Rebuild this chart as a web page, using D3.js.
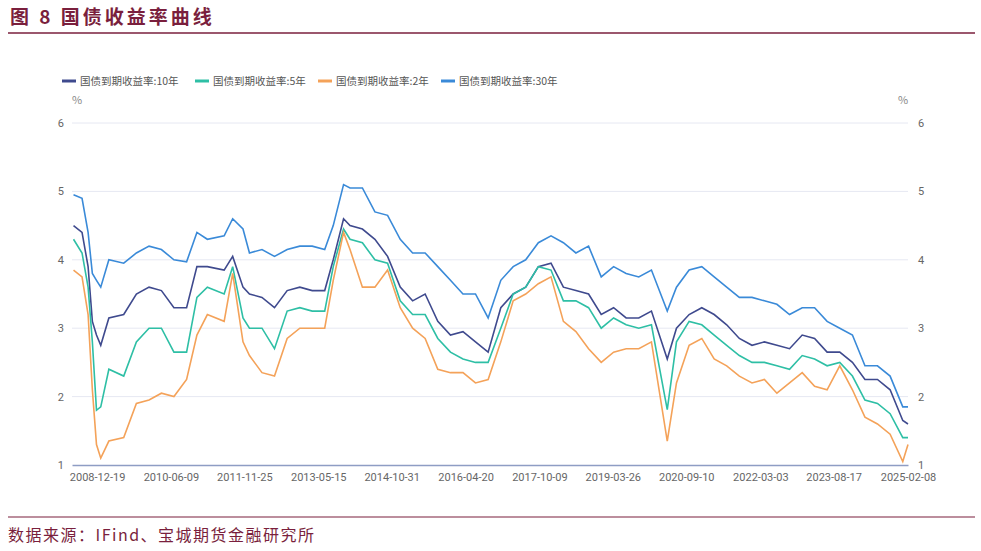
<!DOCTYPE html>
<html><head><meta charset="utf-8">
<script src="https://cdn.jsdelivr.net/npm/d3@7"></script>
<style>body{margin:0;background:#fff;font-family:"Noto Sans CJK SC",sans-serif}</style>
</head><body><svg id="c" width="981" height="551"></svg>
<script>
const dates = ["2008-07-01","2008-09-01","2008-10-15","2008-11-15","2008-12-15","2009-01-15","2009-03-15","2009-07-01","2009-10-01","2010-01-01","2010-04-01","2010-07-01","2010-10-01","2010-12-15","2011-03-01","2011-07-01","2011-09-01","2011-11-15","2012-01-01","2012-04-01","2012-07-01","2012-10-01","2013-01-01","2013-04-01","2013-07-01","2013-09-01","2013-11-15",
"2014-01-01","2014-04-01","2014-07-01","2014-10-01","2015-01-01","2015-04-01","2015-07-01","2015-10-01","2016-01-01","2016-04-01","2016-07-01","2016-10-01","2017-01-01","2017-04-01","2017-07-01","2017-10-01","2018-01-01","2018-04-01","2018-07-01","2018-10-01","2019-01-01","2019-04-01","2019-07-01","2019-10-01",
"2020-01-01","2020-04-25","2020-07-01","2020-10-01","2021-01-01","2021-04-01","2021-07-01","2021-10-01","2022-01-01","2022-04-01","2022-07-01","2022-10-01","2023-01-01","2023-04-01","2023-07-01","2023-10-01","2024-01-01","2024-04-01","2024-07-01","2024-10-01","2025-01-01","2025-02-08"];
const y10 = [4.5,4.4,3.9,3.1,2.9,2.75,3.15,3.2,3.5,3.6,3.55,3.3,3.3,3.9,3.9,3.85,4.05,3.6,3.5,3.45,3.3,3.55,3.6,3.55,3.55,4.0,4.6,
4.5,4.45,4.3,4.05,3.6,3.4,3.5,3.1,2.9,2.95,2.8,2.65,3.3,3.5,3.6,3.9,3.95,3.6,3.55,3.5,3.2,3.3,3.15,3.15,
3.25,2.55,3.0,3.2,3.3,3.2,3.05,2.85,2.75,2.8,2.75,2.7,2.9,2.85,2.65,2.65,2.5,2.25,2.25,2.1,1.65,1.6];
const y5 = [4.3,4.1,3.6,2.8,1.8,1.85,2.4,2.3,2.8,3.0,3.0,2.65,2.65,3.45,3.6,3.5,3.9,3.15,3.0,3.0,2.7,3.25,3.3,3.25,3.25,3.9,4.45,
4.3,4.25,4.0,3.95,3.4,3.2,3.2,2.85,2.65,2.55,2.5,2.5,3.0,3.5,3.6,3.9,3.85,3.4,3.4,3.3,3.0,3.15,3.05,3.0,
3.05,1.81,2.8,3.1,3.05,2.9,2.75,2.6,2.5,2.5,2.45,2.4,2.6,2.55,2.45,2.5,2.3,1.95,1.9,1.75,1.4,1.4];
const y2 = [3.85,3.75,3.2,2.1,1.3,1.1,1.35,1.4,1.9,1.95,2.05,2.0,2.25,2.9,3.2,3.1,3.8,2.8,2.6,2.35,2.3,2.85,3.0,3.0,3.0,3.7,4.4,
4.15,3.6,3.6,3.85,3.3,3.0,2.85,2.4,2.35,2.35,2.2,2.25,2.8,3.4,3.5,3.65,3.75,3.1,2.95,2.7,2.5,2.65,2.7,2.7,
2.8,1.35,2.2,2.75,2.85,2.55,2.45,2.3,2.2,2.25,2.05,2.2,2.35,2.15,2.1,2.45,2.1,1.7,1.6,1.45,1.05,1.3];
const y30 = [4.95,4.9,4.4,3.8,3.7,3.6,4.0,3.95,4.1,4.2,4.15,4.0,3.97,4.4,4.3,4.35,4.6,4.45,4.1,4.15,4.05,4.15,4.2,4.2,4.15,4.5,5.1,
5.05,5.05,4.7,4.65,4.3,4.1,4.1,3.9,3.7,3.5,3.5,3.15,3.7,3.9,4.0,4.25,4.35,4.25,4.1,4.2,3.75,3.9,3.8,3.75,
3.85,3.25,3.6,3.85,3.9,3.75,3.6,3.45,3.45,3.4,3.35,3.2,3.3,3.3,3.1,3.0,2.9,2.45,2.45,2.3,1.85,1.85];
const seriesNames = ["国债到期收益率:10年","国债到期收益率:5年","国债到期收益率:2年","国债到期收益率:30年"];
const seriesColors = ["#3f4a8e","#2ebfa5","#f4a259","#3a8ad8"];
const xTickLabels = ["2008-12-19","2010-06-09","2011-11-25","2013-05-15","2014-10-31","2016-04-20","2017-10-09","2019-03-26","2020-09-10","2022-03-03","2023-08-17","2025-02-08"];
const yTicks = [1,2,3,4,5,6];

const svg = d3.select("#c");
const parse = d3.timeParse("%Y-%m-%d");
const dd = dates.map(parse);
const x = d3.scaleTime().domain([parse("2008-06-20"), parse("2025-02-08")]).range([72, 908]);
const y = d3.scaleLinear().domain([1,6]).range([465,123]);
const red = "#7a1f3d";

svg.append("text").attr("x",10).attr("y",24).attr("fill",red).attr("font-size",19).attr("font-weight","bold").attr("letter-spacing",3).text("图 8 国债收益率曲线");
svg.append("line").attr("x1",8).attr("x2",975).attr("y1",33).attr("y2",33).attr("stroke",red).attr("stroke-width",1.5);
svg.append("line").attr("x1",8).attr("x2",975).attr("y1",517).attr("y2",517).attr("stroke",red).attr("stroke-width",1.2);
svg.append("text").attr("x",8).attr("y",541).attr("fill",red).attr("font-size",16).attr("letter-spacing",1.5).text("数据来源：IFind、宝城期货金融研究所");

svg.append("g").selectAll("line").data(yTicks.slice(1)).join("line")
  .attr("x1",72).attr("x2",908).attr("y1",d=>y(d)).attr("y2",d=>y(d)).attr("stroke","#e6e8f2");
const tcol="#666";
svg.append("g").attr("transform","translate(72,0)").call(d3.axisLeft(y).tickValues(yTicks).tickFormat(d3.format("d")).tickSize(0).tickPadding(8))
  .call(g=>{g.select(".domain").remove();g.selectAll("text").attr("fill",tcol).attr("font-size",11).attr("font-family","Roboto,sans-serif");});
svg.append("g").attr("transform","translate(908,0)").call(d3.axisRight(y).tickValues(yTicks).tickFormat(d3.format("d")).tickSize(0).tickPadding(10))
  .call(g=>{g.select(".domain").remove();g.selectAll("text").attr("fill",tcol).attr("font-size",11).attr("font-family","Roboto,sans-serif");});
svg.append("text").attr("x",77).attr("y",104).attr("fill","#888").attr("font-size",11).attr("text-anchor","middle").text("%");
svg.append("text").attr("x",903).attr("y",104).attr("fill","#888").attr("font-size",11).attr("text-anchor","middle").text("%");

const xa = svg.append("g").attr("transform","translate(0,465)")
  .call(d3.axisBottom(x).tickValues(xTickLabels.map(parse)).tickFormat(d3.timeFormat("%Y-%m-%d")).tickSize(0).tickPadding(8));
xa.select(".domain").attr("stroke","#8e9dc4").attr("stroke-width",1.5);
xa.selectAll("text").attr("fill",tcol).attr("font-size",11).attr("font-family","Roboto,sans-serif");

const all=[y10,y5,y2,y30];
const line = d3.line().x((d,i)=>x(dd[i])).y(d=>y(d));
[0,1,2,3].forEach(k=>{
  svg.append("path").datum(all[k]).attr("d",line).attr("fill","none").attr("stroke",seriesColors[k]).attr("stroke-width",1.6);
});

const lx=[62,195,318,441];
seriesNames.forEach((n,i)=>{
  const g=svg.append("g").attr("transform",`translate(${lx[i]},81)`);
  g.append("line").attr("x1",0).attr("x2",14).attr("stroke",seriesColors[i]).attr("stroke-width",3);
  g.append("text").attr("x",18).attr("y",4).attr("font-size",10.5).attr("fill","#555").text(n);
});
</script></body></html>
